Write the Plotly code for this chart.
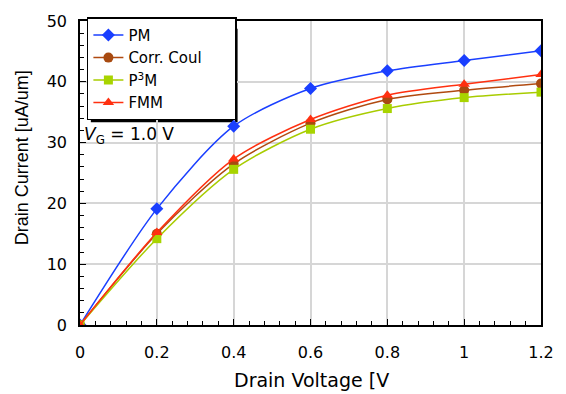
import plotly.graph_objects as go

vd = [0, 0.2, 0.4, 0.6, 0.8, 1.0, 1.2]
pm = [0, 19.1, 32.7, 38.9, 41.8, 43.5, 45.1]
coul = [0, 15.0, 26.5, 33.2, 37.1, 38.6, 39.7]
p3m = [0, 14.2, 25.6, 32.2, 35.6, 37.4, 38.3]
fmm = [0, 15.2, 27.3, 33.8, 37.8, 39.6, 41.2]

names = ["PM", "Corr. Coul", "P<sup>3</sup>M", "FMM"]
series = [pm, coul, p3m, fmm]
colors = ["#1a3fff", "#b04a10", "#a8cc00", "#ff3010"]
mcolors = ["#1a3fff", "#a84a10", "#a8d400", "#ff3010"]
symbols = ["diamond", "circle", "square", "triangle-up"]
sizes = [10, 10, 9, 10]

FONT = "DejaVu Sans, Verdana"
PAD = "\u00a0" * 6

fig = go.Figure()
for n, s, c, mc, sym, sz in zip(names, series, colors, mcolors, symbols, sizes):
    fig.add_trace(go.Scatter(x=vd, y=s, name=n + PAD, mode="lines+markers",
                             line=dict(color=c, width=1.5, shape="spline", smoothing=0.8),
                             marker=dict(symbol=sym, size=sz, color=mc)))

# legend drop shadow
fig.add_shape(type="rect", xref="paper", yref="paper",
              x0=(91 - 80) / 468, x1=(240 - 80) / 468,
              y0=(325 - 117) / 312, y1=(325 - 21) / 312,
              fillcolor="black", line=dict(width=0), layer="between")

fig.add_annotation(x=0.005, y=(325 - 130) / 312, xref="paper", yref="paper",
                   text="<i>V</i><sub>G</sub> = 1.0 V", showarrow=False,
                   xanchor="left", yanchor="middle",
                   font=dict(family=FONT, size=17, color="black"))

# axis titles
fig.add_annotation(x=(315 - 80) / 468, y=(325 - 381) / 312, xref="paper", yref="paper",
                   text="Drain Voltage [V", showarrow=False, xanchor="center", yanchor="middle",
                   font=dict(family=FONT, size=19, color="black"))
fig.add_annotation(x=(22 - 80) / 468, y=(325 - 153) / 312, xref="paper", yref="paper",
                   text="Drain Current [uA/um]", showarrow=False, textangle=-90,
                   xanchor="center", yanchor="middle",
                   font=dict(family="Liberation Sans, Arial", size=18, color="black"))

axis_common = dict(showline=True, linecolor="black", linewidth=1.5, mirror=True,
                   ticks="inside", tickcolor="black", ticklen=6, tickwidth=1.2,
                   showgrid=True, gridcolor="#d6d6d6", gridwidth=1.5, zeroline=False,
                   tickfont=dict(family=FONT, size=16, color="black"))

fig.update_xaxes(range=[0, 1.2], tickvals=[0, 0.2, 0.4, 0.6, 0.8, 1.0, 1.2],
                 ticktext=["0", "0.2", "0.4", "0.6", "0.8", "1", "1.2"],
                 ticklabelstandoff=12,
                 minor=dict(dtick=0.04, ticks="inside", ticklen=4, tickcolor="black", showgrid=False),
                 **axis_common)
fig.update_yaxes(range=[0, 50], dtick=10, ticklabelstandoff=8,
                 minor=dict(dtick=2, ticks="inside", ticklen=4, tickcolor="black", showgrid=False),
                 **axis_common)

fig.update_layout(width=566, height=394, margin=dict(l=80, r=18, t=13, b=69),
                  paper_bgcolor="white", plot_bgcolor="white", autosize=False,
                  showlegend=True,
                  legend=dict(x=(87 - 80) / 468, y=1.012, xanchor="left", yanchor="top",
                              bgcolor="white", bordercolor="black", borderwidth=1.5,
                              font=dict(family=FONT, size=15, color="black"),
                              tracegroupgap=0, itemwidth=30))

fig.write_html("out.html")
